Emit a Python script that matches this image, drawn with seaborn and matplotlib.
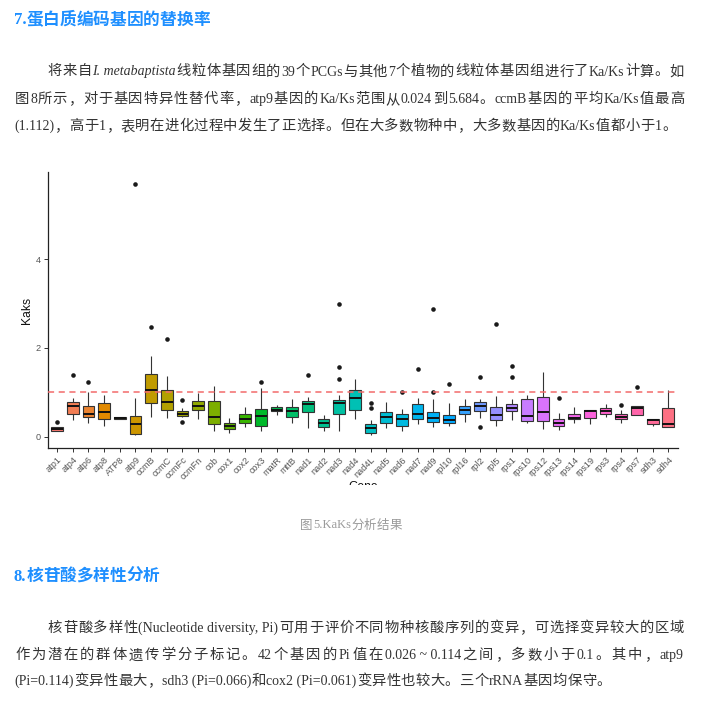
import numpy as np
import pandas as pd
import matplotlib
matplotlib.use('Agg')
import matplotlib.pyplot as plt
import seaborn as sns
from matplotlib.patches import Rectangle

# gene order on the x axis
genes = ['atp1', 'atp4', 'atp6', 'atp8', 'ATP8', 'atp9', 'ccmB', 'ccmC', 'ccmFc', 'ccmFn',
         'cob', 'cox1', 'cox2', 'cox3', 'matR', 'mttB', 'nad1', 'nad2', 'nad3', 'nad4',
         'nad4L', 'nad5', 'nad6', 'nad7', 'nad9', 'rpl10', 'rpl16', 'rpl2', 'rpl5', 'rps1',
         'rps10', 'rps12', 'rps13', 'rps14', 'rps19', 'rps3', 'rps4', 'rps7', 'sdh3', 'sdh4']

# box summaries (Ka/Ks)
whisk_lo = [0.12, 0.37, 0.31, 0.25, 0.39, 0.03, 0.45, 0.43, 0.45, 0.39,
            0.13, 0.09, 0.22, 0.13, 0.49, 0.30, 0.20, 0.14, 0.13, 0.39,
            0.05, 0.19, 0.13, 0.28, 0.22, 0.24, 0.33, 0.43, 0.25, 0.38,
            0.31, 0.18, 0.16, 0.31, 0.28, 0.45, 0.31, 0.50, 0.25, 0.22]
q1 = [0.14, 0.52, 0.45, 0.40, 0.39, 0.07, 0.76, 0.61, 0.46, 0.60,
      0.29, 0.18, 0.30, 0.24, 0.57, 0.45, 0.56, 0.22, 0.52, 0.60,
      0.09, 0.31, 0.24, 0.40, 0.33, 0.31, 0.51, 0.59, 0.37, 0.58,
      0.35, 0.36, 0.24, 0.40, 0.43, 0.52, 0.39, 0.50, 0.28, 0.22]
median = [0.18, 0.69, 0.52, 0.56, 0.42, 0.29, 1.06, 0.78, 0.52, 0.70,
          0.45, 0.25, 0.40, 0.46, 0.61, 0.59, 0.73, 0.30, 0.76, 0.88,
          0.19, 0.44, 0.41, 0.52, 0.43, 0.37, 0.61, 0.69, 0.48, 0.65,
          0.46, 0.55, 0.30, 0.43, 0.59, 0.59, 0.44, 0.65, 0.37, 0.28]
q3 = [0.22, 0.78, 0.69, 0.75, 0.45, 0.46, 1.42, 1.05, 0.57, 0.80,
      0.80, 0.31, 0.52, 0.63, 0.66, 0.67, 0.81, 0.39, 0.83, 1.06,
      0.28, 0.56, 0.52, 0.73, 0.55, 0.49, 0.70, 0.78, 0.67, 0.73,
      0.84, 0.90, 0.39, 0.52, 0.60, 0.64, 0.51, 0.69, 0.40, 0.65]
whisk_hi = [0.23, 0.88, 1.00, 0.94, 0.45, 0.88, 1.83, 1.36, 0.65, 0.99,
            1.15, 0.43, 0.67, 1.09, 0.72, 0.86, 0.89, 0.49, 0.93, 1.29,
            0.37, 0.79, 0.63, 0.88, 0.84, 0.76, 0.86, 0.86, 0.91, 0.84,
            0.94, 1.46, 0.53, 0.67, 0.60, 0.73, 0.61, 0.69, 0.40, 1.06]

# outlier points
out_genes = ['atp1', 'atp4', 'atp6', 'atp9', 'ccmB', 'ccmC', 'ccmFc', 'ccmFc', 'cox3', 'nad1',
             'nad3', 'nad3', 'nad3', 'nad4L', 'nad4L', 'nad6', 'nad7', 'nad9', 'nad9', 'rpl10',
             'rpl2', 'rpl2', 'rpl5', 'rps1', 'rps1', 'rps13', 'rps4', 'rps7']
out_vals = [0.33, 1.40, 1.23, 5.684, 2.48, 2.20, 0.83, 0.34, 1.24, 1.40,
            1.31, 1.58, 3.00, 0.76, 0.65, 1.01, 1.52, 1.01, 2.87, 1.19,
            1.34, 0.22, 2.53, 1.35, 1.60, 0.88, 0.71, 1.11]

W, H = 704, 711
CJK = 'Noto Sans CJK SC'
SERIF = 'Liberation Serif'
SANS = 'Liberation Sans'


def hue_pal(n, c=100.0, l=65.0):
    # ggplot2 default discrete palette (polar LUV -> sRGB)
    hues = np.linspace(15, 375, n + 1)[:n]
    xn, yn, zn = 95.047, 100.0, 108.883
    un = 4 * xn / (xn + 15 * yn + 3 * zn)
    vn = 9 * yn / (xn + 15 * yn + 3 * zn)
    cols = []
    for h in hues:
        u = c * np.cos(np.radians(h))
        v = c * np.sin(np.radians(h))
        y = yn * ((l + 16) / 116) ** 3 if l > 8 else yn * l / 903.3
        up = u / (13 * l) + un
        vp = v / (13 * l) + vn
        x = y * 9 * up / (4 * vp)
        z = y * (12 - 3 * up - 20 * vp) / (4 * vp)
        x, y, z = x / 100, y / 100, z / 100
        rgb = np.array([3.2404542 * x - 1.5371385 * y - 0.4985314 * z,
                        -0.9692660 * x + 1.8760108 * y + 0.0415560 * z,
                        0.0556434 * x - 0.2040259 * y + 1.0572252 * z])
        rgb = np.where(rgb <= 0.0031308, 12.92 * rgb, 1.055 * np.clip(rgb, 0, None) ** (1 / 2.4) - 0.055)
        cols.append(tuple(np.clip(rgb, 0, 1)))
    return cols


# long-format table for seaborn
rows = []
for i, g in enumerate(genes):
    for v in (whisk_lo[i], q1[i], median[i], q3[i], whisk_hi[i]):
        rows.append({'Gene': g, 'Kaks': v})
box_df = pd.DataFrame(rows)
out_df = pd.DataFrame({'Gene': out_genes, 'Kaks': out_vals})

sns.set_style('ticks')
plt.rcParams['font.family'] = [SANS, CJK]

fig = plt.figure(figsize=(W / 100, H / 100), dpi=100)
ax = fig.add_axes([47.7 / W, 262.7 / H, 630 / W, 276.6 / H])

sns.boxplot(data=box_df, x='Gene', y='Kaks', hue='Gene', order=genes, hue_order=genes,
            palette=hue_pal(len(genes)), legend=False, saturation=1, width=0.75,
            whis=(0, 100), showfliers=False, showcaps=False, linecolor='#333333',
            linewidth=0.8, medianprops=dict(color='#111111', linewidth=1.4), ax=ax)
sns.stripplot(data=out_df, x='Gene', y='Kaks', order=genes, jitter=False,
              color='#1a1a1a', size=3.3, linewidth=0, ax=ax)
ax.axhline(1, color='#f26b6b', linestyle=(0, (4, 3)), linewidth=1.1, zorder=10)

ax.set_xlim(-0.6, len(genes) - 0.4)
ax.set_ylim(-0.26, 5.97)
ax.set_yticks([0, 2, 4])
ax.set_xlabel('')
ax.set_ylabel('')
for s in ['top', 'right']:
    ax.spines[s].set_visible(False)
for s in ['left', 'bottom']:
    ax.spines[s].set_linewidth(0.9)
    ax.spines[s].set_color('#222222')
ax.tick_params(axis='both', length=3, width=0.7, color='#333333', labelcolor='#555555',
               labelsize=6.6, pad=2)
plt.setp(ax.get_xticklabels(), rotation=45, ha='right', rotation_mode='anchor')

fig.text(27 / W, 1 - 310 / H, 'Kaks', rotation=90, ha='center', va='center',
         fontsize=8.7, color='#111111', family=SANS)
fig.text(362.7 / W, 1 - 480.5 / H, 'Gene', ha='center', va='top',
         fontsize=8.7, color='#111111', family=SANS)
# the chart picture is cropped just under the axis title
fig.add_artist(Rectangle((0, 1 - 500 / H), 1, 15 / H, transform=fig.transFigure,
                         facecolor='white', edgecolor='none', zorder=20))

renderer = fig.canvas.get_renderer()


def tokens(segments):
    out = []
    for text, kind in segments:
        buf = ''
        for ch in text:
            if ord(ch) >= 0x2E80:
                if buf:
                    out.append((buf, kind, False))
                    buf = ''
                out.append((ch, kind, True))
            else:
                buf += ch
        if buf:
            out.append((buf, kind, False))
    return out


def put_line(segments, x0, base, size, color, right=None, weight='normal', lat_size=None, track=0.0):
    arts = []
    for s, kind, cjk in tokens(segments):
        t = fig.text(0, 0, s, family=CJK if cjk else SERIF,
                     fontsize=size if cjk else (lat_size or size),
                     style='italic' if kind == 'i' else 'normal',
                     weight=weight, color=color, ha='left', va='baseline', zorder=25)
        arts.append(t)
    widths = [t.get_window_extent(renderer).width for t in arts]
    gap = track
    if right is not None and len(arts) > 1:
        gap = (right - x0 - sum(widths)) / (len(arts) - 1)
    x = x0
    for t, w in zip(arts, widths):
        t.set_position((x / W, 1 - base / H))
        x += w + gap


BLUE = '#1e8fff'
TXT = '#333333'
BODY = 10.3
LAT = 10.0

put_line([('7.蛋白质编码基因的替换率', 'n')], 14, 24.5, 12, BLUE, weight='bold')
put_line([('将来自', 'n'), ('I. metabaptista', 'i'),
          ('线粒体基因组的39个PCGs与其他7个植物的线粒体基因组进行了Ka/Ks计算。如', 'n')],
         47.7, 75.5, BODY, TXT, right=684, lat_size=LAT)
put_line([('图8所示，对于基因特异性替代率，atp9基因的Ka/Ks范围从0.024到5.684。ccmB基因的平均Ka/Ks值最高', 'n')],
         15, 103, BODY, TXT, right=684, lat_size=LAT)
put_line([('(1.112)，高于1，表明在进化过程中发生了正选择。但在大多数物种中，大多数基因的Ka/Ks值都小于1。', 'n')],
         14, 130, BODY, TXT, lat_size=LAT, track=0.4)

put_line([('图5.KaKs分析结果', 'n')], 300, 528.5, 9.0, '#9a9a9a', lat_size=9.0, track=0.3)

put_line([('8.核苷酸多样性分析', 'n')], 14, 581, 12, BLUE, weight='bold')
put_line([('核苷酸多样性(Nucleotide diversity, Pi)可用于评价不同物种核酸序列的变异，可选择变异较大的区域', 'n')],
         48, 631.7, BODY, TXT, right=684, lat_size=LAT)
put_line([('作为潜在的群体遗传学分子标记。42个基因的Pi值在0.026 ~ 0.114之间，多数小于0.1。其中，atp9', 'n')],
         15, 659.3, BODY, TXT, right=684, lat_size=LAT)
put_line([('(Pi=0.114)变异性最大，sdh3 (Pi=0.066)和cox2 (Pi=0.061)变异性也较大。三个rRNA基因均保守。', 'n')],
         14, 685, BODY, TXT, lat_size=LAT, track=0.4)

fig.savefig('out.png', dpi=100)
